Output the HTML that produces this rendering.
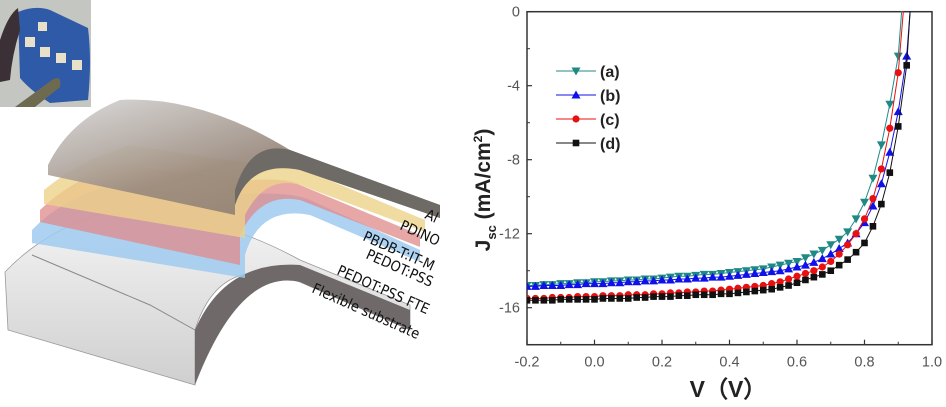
<!DOCTYPE html>
<html><head><meta charset="utf-8"><style>
html,body{margin:0;padding:0;background:#fff;}
svg{display:block;font-family:"Liberation Sans",Arial,sans-serif;}
</style></head><body>
<svg width="946" height="407" viewBox="0 0 946 407">
<defs>
<linearGradient id="alg" x1="0" y1="0" x2="1" y2="1"><stop offset="0" stop-color="#d8d8d8"/><stop offset="0.5" stop-color="#9a8a7e"/><stop offset="1" stop-color="#8a7868"/></linearGradient>
<linearGradient id="subg" x1="0" y1="0" x2="0" y2="1"><stop offset="0" stop-color="#f4f4f4"/><stop offset="1" stop-color="#cfcfcf"/></linearGradient>
<clipPath id="plotclip"><rect x="527" y="11" width="405" height="334"/></clipPath>
</defs>
<!-- inset photo -->
<g>
<rect x="0" y="0" width="91" height="107" fill="#c4c6c2"/>
<path d="M18,12 Q35,5 50,10 L88,28 Q92,60 88,100 L50,103 Q30,90 20,78 Z" fill="#2f5aa8"/>
<path d="M0,40 Q8,15 18,8 L20,30 Q12,55 10,80 L0,82 Z" fill="#3a3036"/>
<rect x="25" y="37" width="10" height="10" fill="#e8e0c8"/><rect x="40" y="47" width="10" height="10" fill="#e8e0c8"/>
<rect x="56" y="53" width="10" height="10" fill="#e8e0c8"/><rect x="72" y="60" width="10" height="10" fill="#e8e0c8"/>
<rect x="38" y="22" width="9" height="9" fill="#e8e0c8"/>
<path d="M15,107 L52,80 Q62,74 60,87 L35,107 Z" fill="#6e6a50"/>
</g>
<!-- substrate -->
<g>
<path d="M5,272 Q40,235 95,215 Q200,205 300,260 L410,305 L410,330 L300,282 Q220,250 195,330 L195,385 L8,330 Z" fill="url(#subg)" stroke="#999" stroke-width="0.8"/>
<path d="M195,330 Q225,260 300,265 L410,310 L410,330 L300,282 Q240,268 195,385 Z" fill="#6f6a69"/>
<path d="M32,255 L150,305 L195,330" fill="none" stroke="#888" stroke-width="1"/>
<path d="M32,230 Q60,200 110,185 L220,195 Q290,190 310,200 L420,250 L420,262 L310,215 Q260,205 245,255 L245,278 L32,243 Z" fill="#9fcaf0" opacity="0.85"/>
<path d="M40,210 Q70,180 120,165 L250,180 Q290,178 300,185 L420,235 L420,247 L300,200 Q260,192 240,235 L240,265 L40,222 Z" fill="#e08a8a" opacity="0.75"/>
<path d="M44,190 Q80,160 130,145 L260,165 Q290,160 300,168 L425,220 L425,232 L300,185 Q265,175 245,215 L245,238 L44,204 Z" fill="#ecd28a" opacity="0.8"/>
<path d="M48,165 Q70,120 120,100 Q200,95 290,150 L440,205 L440,218 L300,170 Q250,160 235,205 L235,215 L48,175 Z" fill="url(#alg)" opacity="0.92"/>
<path d="M235,205 Q250,160 300,170 L440,218 L440,205 L290,150 Q250,140 235,190 Z" fill="#6e6a66"/>
<g font-size="14.5" fill="#111" font-family="'DejaVu Sans Condensed','Liberation Sans',sans-serif">
<text transform="translate(424,218) rotate(24)">Al</text>
<text transform="translate(399,229) rotate(24)">PDINO</text>
<text transform="translate(362,240) rotate(24)">PBDB-T:IT-M</text>
<text transform="translate(365,258) rotate(24)">PEDOT:PSS</text>
<text transform="translate(336,274) rotate(24)">PEDOT:PSS FTE</text>
<text transform="translate(311,292) rotate(24)">Flexible substrate</text>
</g>
</g>
<g id="chart"></g>
</svg>
<script>
const voltages=[-0.2,-0.175,-0.15,-0.125,-0.1,-0.075,-0.05,-0.025,0,0.025,0.05,0.075,0.1,0.125,0.15,0.175,0.2,0.225,0.25,0.275,0.3,0.325,0.35,0.375,0.4,0.425,0.45,0.475,0.5,0.525,0.55,0.575,0.6,0.625,0.65,0.675,0.7,0.725,0.75,0.775,0.8,0.825,0.85,0.875,0.9,0.925];
const seriesA=[-14.8,-14.8,-14.75,-14.75,-14.7,-14.7,-14.65,-14.65,-14.6,-14.6,-14.55,-14.55,-14.5,-14.5,-14.45,-14.45,-14.4,-14.35,-14.3,-14.3,-14.25,-14.2,-14.2,-14.15,-14.1,-14.05,-14.0,-13.95,-13.9,-13.8,-13.7,-13.6,-13.5,-13.3,-13.1,-12.9,-12.6,-12.3,-11.9,-11.2,-10.3,-9.0,-7.2,-5.0,-2.4,null];
const seriesB=[-14.85,-14.85,-14.8,-14.8,-14.8,-14.75,-14.75,-14.7,-14.7,-14.7,-14.65,-14.65,-14.6,-14.6,-14.55,-14.55,-14.5,-14.5,-14.45,-14.45,-14.4,-14.4,-14.35,-14.35,-14.3,-14.25,-14.2,-14.15,-14.1,-14.05,-14.0,-13.9,-13.8,-13.7,-13.55,-13.35,-13.1,-12.8,-12.5,-12.0,-11.4,-10.5,-9.3,-7.6,-5.4,-2.4];
const seriesC=[-15.5,-15.5,-15.5,-15.45,-15.45,-15.45,-15.4,-15.4,-15.4,-15.35,-15.35,-15.35,-15.3,-15.3,-15.3,-15.25,-15.25,-15.2,-15.2,-15.15,-15.15,-15.1,-15.1,-15.05,-15.0,-14.95,-14.9,-14.85,-14.8,-14.7,-14.6,-14.45,-14.3,-14.15,-14.0,-13.8,-13.5,-13.1,-12.6,-12.0,-11.2,-10.1,-8.5,-6.3,-3.3,null];
const seriesD=[-15.6,-15.6,-15.6,-15.6,-15.55,-15.55,-15.55,-15.55,-15.55,-15.5,-15.5,-15.5,-15.5,-15.45,-15.45,-15.4,-15.4,-15.4,-15.35,-15.35,-15.3,-15.3,-15.3,-15.25,-15.25,-15.2,-15.15,-15.1,-15.05,-15.0,-14.9,-14.8,-14.65,-14.5,-14.35,-14.2,-14.0,-13.7,-13.4,-13.0,-12.5,-11.6,-10.4,-8.7,-6.2,-2.9];
const vocValues=[0.91,0.935,0.915,0.935];
const seriesNames=["(a)","(b)","(c)","(d)"];
const xTicks=[-0.2,0.0,0.2,0.4,0.6,0.8,1.0];
const xTickLabels=["-0.2","0.0","0.2","0.4","0.6","0.8","1.0"];
const yTicks=[0,-4,-8,-12,-16];
const yTickLabels=["0","-4","-8","-12","-16"];

const NS="http://www.w3.org/2000/svg";
const X0=527,X1=932,Y0=11.7,Y1=344.7;
function xs(v){return X0+(v+0.2)/1.2*(X1-X0);}
function ys(j){return Y0+(0-j)/18*(Y1-Y0);}
const chart=document.getElementById('chart');
function mk(tag,attrs,parent){const e=document.createElementNS(NS,tag);for(const k in attrs)e.setAttribute(k,attrs[k]);(parent||chart).appendChild(e);return e;}

const frame=mk('rect',{x:X0,y:Y0,width:X1-X0,height:Y1-Y0,fill:'none',stroke:'#333','stroke-width':1.5});



xTicks.forEach((t,i)=>{
  const x=xs(t);
  const tk=mk('line',{x1:x,y1:Y1,x2:x,y2:Y1-5,stroke:'#333','stroke-width':1.2});
  
  
  if(i<xTicks.length-1){const m=mk('line',{x1:xs(t+0.1),y1:Y1,x2:xs(t+0.1),y2:Y1-3,stroke:'#333'});
  
  }
  const lb=mk('text',{x:x,y:Y1+22,'text-anchor':'middle','font-size':14.5,fill:'#555'});
  lb.textContent=xTickLabels[i];
  
  
});
yTicks.forEach((t,i)=>{
  const y=ys(t);
  const tk=mk('line',{x1:X0,y1:y,x2:X0+5,y2:y,stroke:'#333','stroke-width':1.2});
  
  
  const m=mk('line',{x1:X0,y1:ys(t-2),x2:X0+3,y2:ys(t-2),stroke:'#333'});
  
  
  const lb=mk('text',{x:X0-7,y:y+5,'text-anchor':'end','font-size':14.5,fill:'#555'});
  lb.textContent=yTickLabels[i];
  
  
});

const xt=mk('text',{x:728,y:397,'text-anchor':'middle','font-size':23,'font-weight':'bold',fill:'#222'});
xt.textContent="V（V）";


const yt=mk('text',{transform:'translate(490,190) rotate(-90)','text-anchor':'middle','font-size':21,'font-weight':'bold',fill:'#222'});
yt.innerHTML='J<tspan font-size="13" dy="6">sc</tspan><tspan dy="-6"> (mA/cm</tspan><tspan font-size="12" dy="-8">2</tspan><tspan dy="8">)</tspan>';



const colors=['#1f8a85','#1010e8','#e81010','#111111'];
const shapes=['tdown','tup','circle','square'];
const allSeries=[seriesA,seriesB,seriesC,seriesD];
function marker(shape,x,y,c,parent){
  let e;
  if(shape==='tdown')e=mk('polygon',{points:`${x-4.5},${y-3.5} ${x+4.5},${y-3.5} ${x},${y+4.5}`,fill:c},parent);
  else if(shape==='tup')e=mk('polygon',{points:`${x-4.5},${y+3.5} ${x+4.5},${y+3.5} ${x},${y-4.5}`,fill:c},parent);
  else if(shape==='circle')e=mk('circle',{cx:x,cy:y,r:3.6,fill:c},parent);
  else e=mk('rect',{x:x-3.3,y:y-3.3,width:6.6,height:6.6,fill:c},parent);
  return e;
}
const plotG=mk('g',{'clip-path':'url(#plotclip)'});


allSeries.forEach((s,si)=>{
  const g=mk('g',{},plotG);
  
  
  const pts=[];
  s.forEach((j,i)=>{if(j!==null)pts.push([xs(voltages[i]),ys(j)]);});
  pts.push([xs(vocValues[si]),ys(0)]);
  pts.push([xs(vocValues[si]+0.01),ys(0)-20]);
  const ln=mk('polyline',{points:pts.map(p=>p.join(',')).join(' '),fill:'none',stroke:colors[si],'stroke-width':1},g);
  
  
  s.forEach((j,i)=>{if(j===null)return;
    const m=marker(shapes[si],xs(voltages[i]),ys(j),colors[si],g);
    
    
  });
});
const legendY=[71,95,119,143];
seriesNames.forEach((n,i)=>{
  const g=mk('g',{});
  
  
  mk('line',{x1:556,y1:legendY[i],x2:596,y2:legendY[i],stroke:colors[i],'stroke-width':1},g);
  marker(shapes[i],576,legendY[i],colors[i],g);
  const t=mk('text',{x:600,y:legendY[i]+6,'font-size':16,'font-weight':'bold',fill:'#222'},g);
  t.textContent=n;
});
</script>
</body></html>
